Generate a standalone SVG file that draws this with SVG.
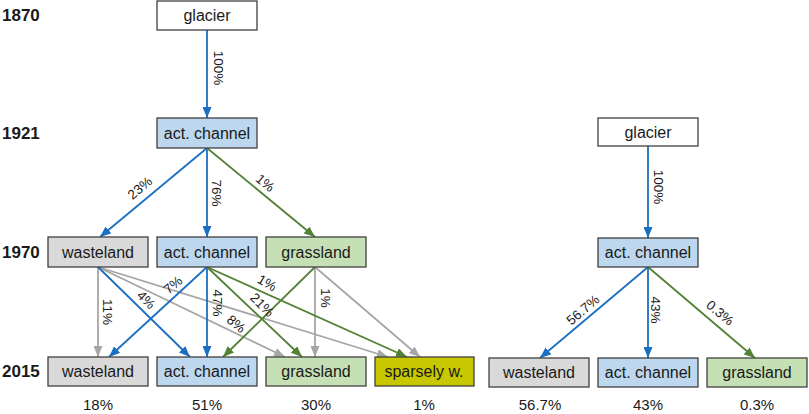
<svg xmlns="http://www.w3.org/2000/svg" width="809" height="414" viewBox="0 0 809 414">
<style>
.box{stroke:#404040;stroke-width:1.3}
.w{fill:#ffffff}.ac{fill:#bdd7ee}.wl{fill:#d9d9d9}.gl{fill:#c5e0b4}.sp{fill:#c8c800}
.bt{font-family:"Liberation Sans",Arial,sans-serif;font-size:16px;fill:#1a1a1a;text-anchor:middle}
.yr{font-family:"Liberation Sans",Arial,sans-serif;font-size:17px;font-weight:bold;fill:#1a1a1a}
.lb{font-family:"Liberation Sans",Arial,sans-serif;font-size:13.5px;fill:#1a1a1a;text-anchor:middle;dominant-baseline:central}
.pc{font-family:"Liberation Sans",Arial,sans-serif;font-size:15px;fill:#1a1a1a;text-anchor:middle}
.bl{stroke:#1b6ec2;stroke-width:1.8;fill:none;marker-end:url(#mb)}
.gr{stroke:#538135;stroke-width:1.8;fill:none;marker-end:url(#mg)}
.gy{stroke:#a6a6a6;stroke-width:1.8;fill:none;marker-end:url(#my)}
</style>
<defs>
<marker id="mb" markerUnits="userSpaceOnUse" markerWidth="11" markerHeight="9" refX="11" refY="4.5" orient="auto"><path d="M0,0 L11,4.5 L0,9 z" fill="#1b6ec2"/></marker>
<marker id="mg" markerUnits="userSpaceOnUse" markerWidth="11" markerHeight="9" refX="11" refY="4.5" orient="auto"><path d="M0,0 L11,4.5 L0,9 z" fill="#538135"/></marker>
<marker id="my" markerUnits="userSpaceOnUse" markerWidth="11" markerHeight="9" refX="11" refY="4.5" orient="auto"><path d="M0,0 L11,4.5 L0,9 z" fill="#a6a6a6"/></marker>
</defs>
<rect width="809" height="414" fill="#ffffff"/>
<g id="years">
<text class="yr" x="2" y="21">1870</text>
<text class="yr" x="2" y="139">1921</text>
<text class="yr" x="2" y="258">1970</text>
<text class="yr" x="2" y="377">2015</text>
</g>
<g id="connectors">
<line class="gy" x1="98" y1="267" x2="98" y2="357"/>
<line class="gy" x1="98" y1="267" x2="285" y2="357"/>
<line class="gy" x1="98" y1="267" x2="388" y2="357"/>
<line class="gy" x1="315" y1="267" x2="315" y2="357"/>
<line class="gy" x1="315" y1="267" x2="420" y2="357"/>
<line class="bl" x1="207" y1="30" x2="207" y2="118"/>
<line class="bl" x1="207" y1="148" x2="100" y2="237"/>
<line class="bl" x1="207" y1="148" x2="207" y2="237"/>
<line class="gr" x1="207" y1="148" x2="315" y2="237"/>
<line class="bl" x1="98" y1="267" x2="190" y2="357"/>
<line class="bl" x1="207" y1="267" x2="109" y2="357"/>
<line class="bl" x1="207" y1="267" x2="207" y2="357"/>
<line class="gr" x1="207" y1="267" x2="302" y2="357"/>
<line class="gr" x1="207" y1="267" x2="407" y2="357"/>
<line class="gr" x1="315" y1="267" x2="223" y2="357"/>
<line class="bl" x1="648" y1="146" x2="648" y2="238"/>
<line class="bl" x1="648" y1="267" x2="540" y2="358"/>
<line class="bl" x1="648" y1="267" x2="648" y2="358"/>
<line class="gr" x1="648" y1="267" x2="755" y2="358"/>
</g>
<g id="edge-labels">
<text class="lb" transform="translate(218,68) rotate(90)">100%</text>
<text class="lb" transform="translate(140,188) rotate(-40)">23%</text>
<text class="lb" transform="translate(216,193) rotate(90)">76%</text>
<text class="lb" transform="translate(265,183) rotate(40)">1%</text>
<text class="lb" transform="translate(107,312) rotate(90)">11%</text>
<text class="lb" transform="translate(146,300) rotate(45)">4%</text>
<text class="lb" transform="translate(173,285) rotate(-40)">7%</text>
<text class="lb" transform="translate(217,303) rotate(90)">47%</text>
<text class="lb" transform="translate(262,305) rotate(45)">21%</text>
<text class="lb" transform="translate(236,324) rotate(40)">8%</text>
<text class="lb" transform="translate(267,283) rotate(30)">1%</text>
<text class="lb" transform="translate(325,298) rotate(90)">1%</text>
<text class="lb" transform="translate(658,187) rotate(90)">100%</text>
<text class="lb" transform="translate(583,310) rotate(-40)">56.7%</text>
<text class="lb" transform="translate(655,310) rotate(90)">43%</text>
<text class="lb" transform="translate(720,313) rotate(40)">0.3%</text>
</g>
<g id="n-glacier-1870"><rect class="box w" x="157" y="1" width="100" height="29"/><text class="bt" x="207" y="21">glacier</text></g>
<g id="n-channel-1921"><rect class="box ac" x="157" y="118" width="100" height="30"/><text class="bt" x="207" y="139">act. channel</text></g>
<g id="n-wasteland-1970"><rect class="box wl" x="48" y="237" width="100" height="30"/><text class="bt" x="98" y="258">wasteland</text></g>
<g id="n-channel-1970"><rect class="box ac" x="157" y="237" width="100" height="30"/><text class="bt" x="207" y="258">act. channel</text></g>
<g id="n-grassland-1970"><rect class="box gl" x="266" y="237" width="100" height="30"/><text class="bt" x="316" y="258">grassland</text></g>
<g id="n-wasteland-2015"><rect class="box wl" x="48" y="357" width="100" height="29"/><text class="bt" x="98" y="377">wasteland</text></g>
<g id="n-channel-2015"><rect class="box ac" x="157" y="357" width="100" height="29"/><text class="bt" x="207" y="377">act. channel</text></g>
<g id="n-grassland-2015"><rect class="box gl" x="266" y="357" width="100" height="29"/><text class="bt" x="316" y="377">grassland</text></g>
<g id="n-sparsely-2015"><rect class="box sp" x="375" y="357" width="99" height="29"/><text class="bt" x="424" y="377">sparsely w.</text></g>
<g id="n-glacier-r"><rect class="box w" x="598" y="118" width="100" height="28"/><text class="bt" x="648" y="138">glacier</text></g>
<g id="n-channel-r"><rect class="box ac" x="598" y="238" width="100" height="29"/><text class="bt" x="648" y="258">act. channel</text></g>
<g id="n-wasteland-r"><rect class="box wl" x="489" y="358" width="100" height="29"/><text class="bt" x="539" y="378">wasteland</text></g>
<g id="n-channel-r2"><rect class="box ac" x="598" y="358" width="100" height="29"/><text class="bt" x="648" y="378">act. channel</text></g>
<g id="n-grassland-r"><rect class="box gl" x="707" y="358" width="100" height="29"/><text class="bt" x="757" y="378">grassland</text></g>
<g id="shares">
<text class="pc" x="98" y="410">18%</text>
<text class="pc" x="207" y="410">51%</text>
<text class="pc" x="316" y="410">30%</text>
<text class="pc" x="424" y="410">1%</text>
<text class="pc" x="540" y="410">56.7%</text>
<text class="pc" x="648" y="410">43%</text>
<text class="pc" x="757" y="410">0.3%</text>
</g>
</svg>
